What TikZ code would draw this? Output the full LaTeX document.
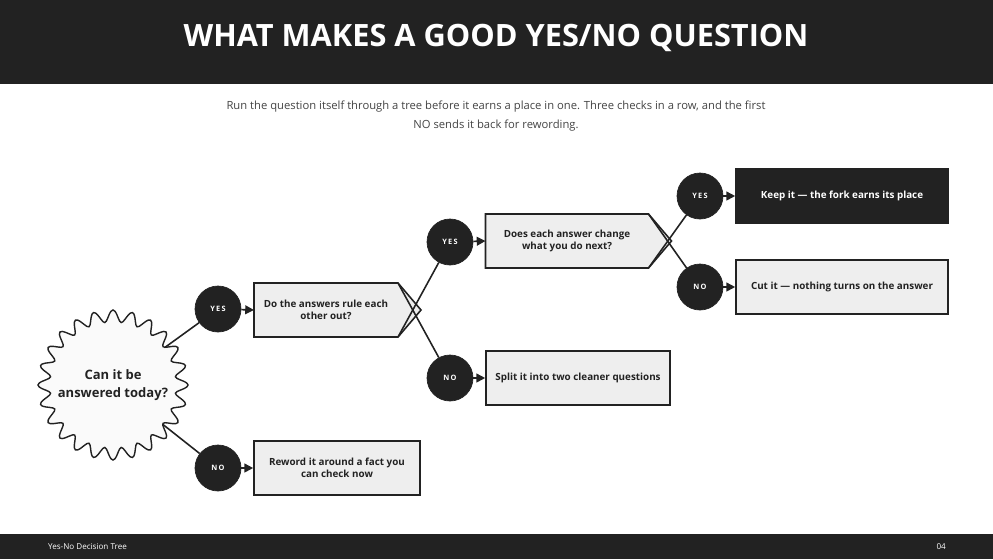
\documentclass[tikz,border=0pt]{standalone}
\usepackage{fontspec}
\setmainfont{Open Sans}
\usetikzlibrary{positioning,calc,arrows.meta}
\definecolor{inkdark}{HTML}{222222}
\definecolor{boxfill}{HTML}{EEEEEE}
\definecolor{subgray}{HTML}{444444}
\begin{document}
\begin{tikzpicture}[x=0.02cm,y=-0.02cm,
  answer_node/.style={circle,fill=inkdark,draw=inkdark,minimum size=46*0.02cm,inner sep=0pt,text=white,font=\fontsize{4.2}{5}\selectfont\bfseries},
  box_node/.style={rectangle,fill=boxfill,draw=inkdark,line width=0.9pt,minimum height=54*0.02cm,align=center,font=\fontsize{5.6}{7}\selectfont\bfseries,text=inkdark},
  link/.style={draw=inkdark,line width=0.9pt},
  answer_arrow/.style={link,-{Triangle[length=5pt,width=5pt]}}]
\useasboundingbox (0,0) rectangle (993,559);
\fill[inkdark] (0,0) rectangle (993,84);
\fill[inkdark] (0,534) rectangle (993,559);
\node[text=white,font=\fontsize{17.5}{20}\selectfont\bfseries] (title) at (496,38) {WHAT MAKES A GOOD YES/NO QUESTION};
\node[text=subgray,align=center,font=\fontsize{6.4}{11}\selectfont] (sub) at (496,116) {Run the question itself through a tree before it earns a place in one. Three checks in a row, and the first\\NO sends it back for rewording.};
\node[text=white,anchor=west,font=\fontsize{4.6}{5}\selectfont] (foot) at (42,547) {Yes-No Decision Tree};
\node[text=white,anchor=east,font=\fontsize{4.6}{5}\selectfont] (page) at (952,547) {04};
% answer circles
\node[answer_node] (yes1) at (218,309) {Y\,E\,S};
\node[answer_node] (no1) at (218,468) {N\,O};
\node[answer_node] (yes2) at (450,242) {Y\,E\,S};
\node[answer_node] (no2) at (450,378) {N\,O};
\node[answer_node] (yes3) at (700,196) {Y\,E\,S};
\node[answer_node] (no3) at (700,287) {N\,O};
% question start
\coordinate (start) at (113,385);
\draw[link] (start) -- (yes1);
\draw[link] (start) -- (no1);
\filldraw[fill=white!98!black,draw=inkdark,line width=0.8pt,smooth,samples=241,domain=0:360]
  plot ({113+69*cos(\x)+6*cos(24*\x)*cos(\x)},{385+69*sin(\x)+6*cos(24*\x)*sin(\x)}) -- cycle;
\node[align=center,font=\fontsize{7.4}{10.5}\selectfont\bfseries,text=inkdark] (q0) at (start) {Can it be\\answered today?};
% first question
\node[box_node,draw=none,fill=none,minimum width=144*0.02cm,outer sep=0pt] (q1) at (326,310) {};
\filldraw[fill=boxfill,draw=inkdark,line width=0.9pt] (q1.north west) -- (q1.north east) -- ($(q1.east)+(23,0)$) -- (q1.south east) -- (q1.south west) -- cycle;
\node[align=center,font=\fontsize{5.6}{7}\selectfont\bfseries,text=inkdark] at (q1) {Do the answers rule each\\other out?};
\draw[link] (yes2) -- (q1.south east);
\draw[link] (no2) -- (q1.north east);
\node[box_node,minimum width=166*0.02cm] (rw) at (337,468) {Reword it around a fact you\\can check now};
% second question
\node[box_node,draw=none,fill=none,minimum width=163*0.02cm,outer sep=0pt] (q2) at (567,241) {};
\filldraw[fill=boxfill,draw=inkdark,line width=0.9pt] (q2.north west) -- (q2.north east) -- ($(q2.east)+(23,0)$) -- (q2.south east) -- (q2.south west) -- cycle;
\node[align=center,font=\fontsize{5.6}{7}\selectfont\bfseries,text=inkdark] at (q2) {Does each answer change\\what you do next?};
\draw[link] (yes3) -- (q2.south east);
\draw[link] (no3) -- (q2.north east);
\node[box_node,minimum width=184*0.02cm] (split) at (578,378) {Split it into two cleaner questions};
% outcomes
\node[box_node,fill=inkdark,text=white,minimum width=212*0.02cm] (keep) at (842,196) {Keep it — the fork earns its place};
\node[box_node,minimum width=212*0.02cm] (cut) at (842,287) {Cut it — nothing turns on the answer};
% answer arrows
\draw[answer_arrow] (yes1) -- (q1.west);
\draw[answer_arrow] (no1) -- (rw);
\draw[answer_arrow] (yes2) -- (q2.west);
\draw[answer_arrow] (no2) -- (split);
\draw[answer_arrow] (yes3) -- (keep);
\draw[answer_arrow] (no3) -- (cut);
\end{tikzpicture}
\end{document}
